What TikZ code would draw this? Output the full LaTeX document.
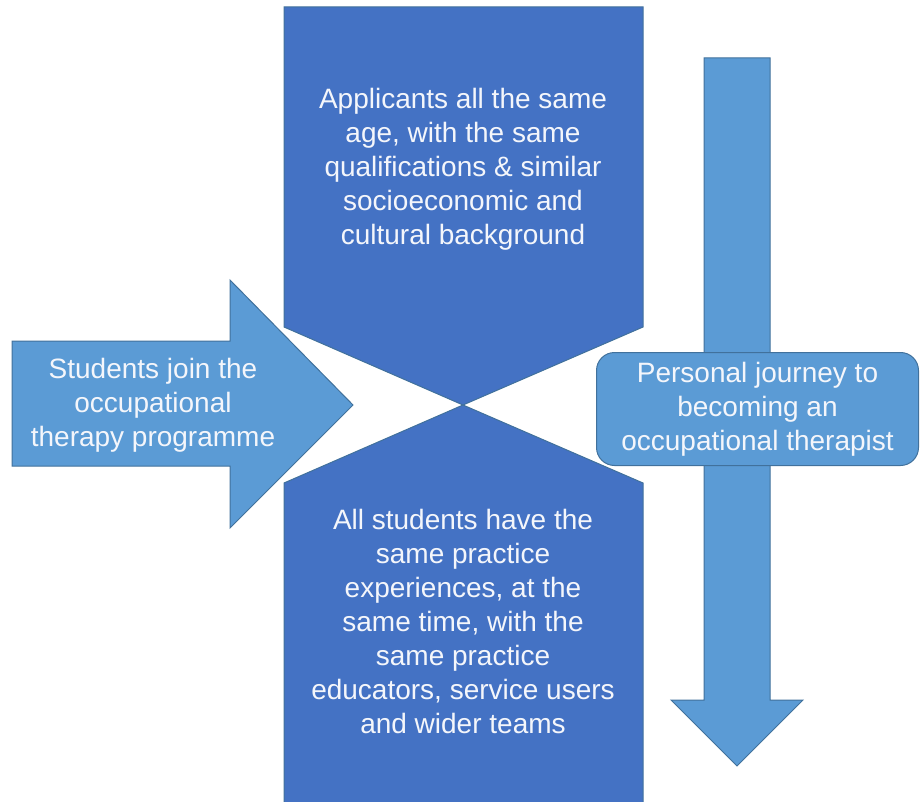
\documentclass[tikz,border=0pt]{standalone}
\usepackage{fontspec}
\setmainfont{Liberation Sans}
\definecolor{darkfill}{HTML}{4472C4}
\definecolor{lightfill}{HTML}{5B9BD5}
\definecolor{edgecol}{HTML}{41719C}
\definecolor{txtcol}{HTML}{F4F6FB}
\tikzset{
  darkshape/.style={fill=darkfill, draw=edgecol, line width=1pt, line join=miter},
  lightshape/.style={fill=lightfill, draw=edgecol, line width=1pt, line join=miter},
  label/.style={text=txtcol, align=center, font=\fontsize{28}{34}\selectfont, inner sep=0pt},
}
\begin{document}
\begin{tikzpicture}[x=1pt,y=-1pt]
\useasboundingbox (0,0) rectangle (920,802);
\clip (0,0) rectangle (920,802);
% hourglass
\draw[darkshape] (284,7) -- (643,7) -- (643,327) -- (463,405) -- (643,483) -- (643,810)
  -- (284,810) -- (284,483) -- (463,405) -- (284,327) -- cycle;
% left arrow
\draw[lightshape] (12,341) -- (230,341) -- (230,280) -- (353,405) -- (230,528) -- (230,466) -- (12,466) -- cycle;
% down arrow
\draw[lightshape] (704,58) -- (770,58) -- (770,700) -- (803,700) -- (737,766) -- (671,700) -- (704,700) -- cycle;
% rounded box
\node[lightshape, rounded corners=18pt, minimum width=322pt, minimum height=113pt, anchor=north west, inner sep=0pt] (journeybox) at (596,352) {};
% texts
\node[label] (toptext) at (463,169) {Applicants all the same\\age, with the same\\qualifications \& similar\\socioeconomic and\\cultural background};
\node[label] (bottomtext) at (463,621) {All students have the\\same practice\\experiences, at the\\same time, with the\\same practice\\educators, service users\\and wider teams};
\node[label] (lefttext) at (153,405) {Students join the\\occupational\\therapy programme};
\node[label] (journeytext) at (journeybox.center) {Personal journey to\\becoming an\\occupational therapist};
\end{tikzpicture}
\end{document}
